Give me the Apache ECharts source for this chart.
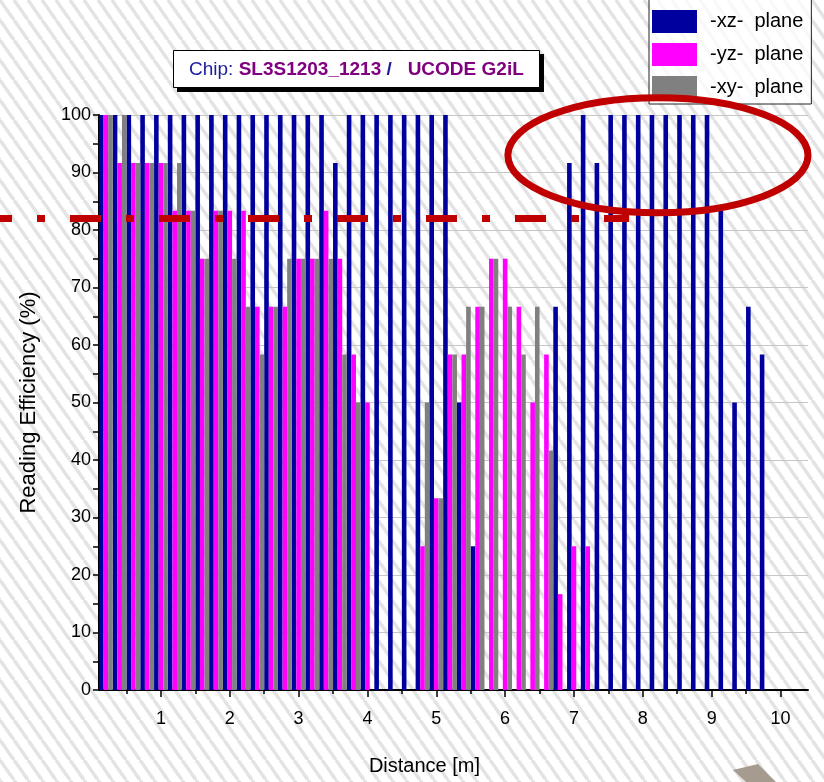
<!DOCTYPE html>
<html><head><meta charset="utf-8">
<script src="https://cdn.jsdelivr.net/npm/echarts@6/dist/echarts.min.js"></script>
<style>html,body{margin:0;padding:0;background:#fff}#c{width:824px;height:782px}</style>
</head><body><div id="c"></div>
<script>
// ---------- data ----------
const distances = [0.2,0.4,0.6,0.8,1.0,1.2,1.4,1.6,1.8,2.0,2.2,2.4,2.6,2.8,3.0,3.2,3.4,3.6,3.8,4.0,
  4.2,4.4,4.6,4.8,5.0,5.2,5.4,5.6,5.8,6.0,6.2,6.4,6.6,6.8,7.0,7.2,7.4,7.6,7.8,8.0,
  8.2,8.4,8.6,8.8,9.0,9.2,9.4,9.6,9.8];
const xzPlane = [100,100,100,100,100,100,100,100,100,100,100,100,100,100,100,100,100,91.67,100,100,
  100,100,100,100,100,100,50,25,null,null,null,null,null,66.67,91.67,100,91.67,100,100,100,
  100,100,100,100,100,83.33,50,66.67,58.33];
const yzPlane = [100,91.67,91.67,91.67,91.67,83.33,83.33,75,83.33,83.33,83.33,66.67,66.67,66.67,75,75,83.33,75,58.33,50,
  null,null,null,25,33.33,58.33,58.33,66.67,75,75,66.67,50,58.33,16.67,25,25,null,null,null,null,
  null,null,null,null,null,null,null,null,null];
const xyPlane = [100,100,91.67,91.67,91.67,91.67,83.33,75,83.33,75,66.67,58.33,66.67,75,75,75,75,58.33,50,null,
  null,null,null,50,33.33,58.33,66.67,66.67,75,66.67,58.33,66.67,41.67,null,null,null,null,null,null,null,
  null,null,null,null,null,null,null,null,null];
const seriesNames = ['-xz-  plane', '-yz-  plane', '-xy-  plane'];
const xTickLabels = [1,2,3,4,5,6,7,8,9,10];
const xMinorTicks = [0.5,1.5,2.5,3.5,4.5,5.5,6.5,7.5,8.5,9.5];
const thresholdLevel = 82;      // red dash-dot line (%)
const thresholdEnd = 7.8;       // where the red line stops (m)
const ellipseCenter = [8.22, 93]; // [m, %]
const ellipseRadius = [2.18, 10]; // [m, %]

// ---------- styles ----------
const FONT = '"Liberation Sans", Arial, sans-serif';
const colors = ['#00009e', '#ff00ff', '#808080'];

function stripes() {
  const c = document.createElement('canvas');
  const w = 14, h = 20;
  c.width = w; c.height = h;
  const g = c.getContext('2d');
  g.fillStyle = '#ffffff'; g.fillRect(0, 0, w, h);
  g.strokeStyle = '#e3e3e3'; g.lineWidth = 3.5;
  [-w, 0, w].forEach(dx => { g.beginPath(); g.moveTo(dx, 0); g.lineTo(dx + w, h); g.stroke(); });
  return c;
}

const chart = echarts.init(document.getElementById('c'));
chart.setOption({
  animation: false,
  backgroundColor: { image: stripes(), repeat: 'repeat' },
  title: {
    text: '{a|Chip: }{b|SL3S1203_1213 }{c|/}{a|   }{b|UCODE G2iL}',
    left: 173, top: 50, z: 10,
    padding: [10, 16, 9, 16],
    backgroundColor: '#fff', borderColor: '#000', borderWidth: 1,
    textStyle: {
      fontFamily: FONT, fontWeight: 'normal',
      rich: {
        a: { fontSize: 19, color: '#1c1c9c', fontWeight: 'normal', fontFamily: FONT },
        b: { fontSize: 19, color: '#800080', fontWeight: 'bold', fontFamily: FONT },
        c: { fontSize: 19, color: '#1c1c9c', fontWeight: 'bold', fontFamily: FONT }
      }
    }
  },
  legend: {
    orient: 'vertical', left: 649, top: -1,
    itemWidth: 45, itemHeight: 23, itemGap: 10,
    padding: [11, 8, 5, 3],
    backgroundColor: 'rgba(255,255,255,0.75)', borderColor: '#222', borderWidth: 1,
    icon: 'rect',
    textStyle: { fontSize: 20, fontFamily: FONT, color: '#000', padding: [0, 0, 0, 8] },
    data: seriesNames
  },
  grid: { left: 99, right: 16, top: 115, bottom: 92 },
  xAxis: [{
    type: 'value', min: 0.1, max: 10.4,
    axisLine: { show: true, lineStyle: { color: '#000', width: 2 } },
    axisTick: { show: true, customValues: xTickLabels, length: 7, lineStyle: { color: '#000', width: 1.5 } },
    axisLabel: { customValues: xTickLabels, fontSize: 18, color: '#000', margin: 20, fontFamily: FONT },
    splitLine: { show: false },
    name: 'Distance [m]', nameLocation: 'middle', nameGap: 66,
    nameTextStyle: { fontSize: 20, color: '#000', fontFamily: FONT, padding: [0, 58, 0, 0] }
  }, {
    type: 'value', min: 0.1, max: 10.4, position: 'bottom',
    axisLine: { show: false }, axisLabel: { show: false }, splitLine: { show: false },
    axisTick: { show: true, customValues: xMinorTicks, length: 4, lineStyle: { color: '#000', width: 1.5 } }
  }],
  yAxis: {
    type: 'value', min: 0, max: 100, interval: 10,
    axisLine: { show: true, lineStyle: { color: '#000', width: 2 } },
    axisTick: { show: true, length: 6, lineStyle: { color: '#000', width: 1.5 } },
    minorTick: { show: true, splitNumber: 2, length: 6, lineStyle: { color: '#000', width: 1.5 } },
    axisLabel: { fontSize: 18, color: '#000', margin: 8, fontFamily: FONT },
    splitLine: { show: true, lineStyle: { color: '#c6c6c6', width: 1 } },
    name: 'Reading Efficiency (%)', nameLocation: 'middle', nameGap: 59, nameRotate: 90,
    nameTextStyle: { fontSize: 22, color: '#000', fontFamily: FONT }
  },
  series: [xzPlane, yzPlane, xyPlane].map((arr, i) => ({
    type: 'bar', name: seriesNames[i],
    data: distances.map((d, j) => [d, arr[j]]),
    barWidth: 4.6, barGap: '0%',
    itemStyle: { color: colors[i] }
  }))
});

// annotations placed through the chart's own scales
const yT = chart.convertToPixel({ yAxisIndex: 0 }, thresholdLevel);
const xE = chart.convertToPixel({ xAxisIndex: 0 }, thresholdEnd);
const cx = chart.convertToPixel({ xAxisIndex: 0 }, ellipseCenter[0]);
const cy = chart.convertToPixel({ yAxisIndex: 0 }, ellipseCenter[1]);
const rx = chart.convertToPixel({ xAxisIndex: 0 }, ellipseCenter[0] + ellipseRadius[0]) - cx;
const ry = cy - chart.convertToPixel({ yAxisIndex: 0 }, ellipseCenter[1] + ellipseRadius[1]);
chart.setOption({
  graphic: [
    { type: 'rect', z: 5, shape: { x: 177, y: 54, width: 367, height: 38 }, style: { fill: '#000' } },
    { type: 'line', z: 100, shape: { x1: 0, y1: yT, x2: xE, y2: yT },
      style: { stroke: '#c00000', lineWidth: 7, lineDash: [31, 25, 8, 25], lineDashOffset: 19, lineCap: 'butt' } },
    { type: 'ellipse', z: 101, shape: { cx: cx, cy: cy, rx: rx, ry: ry },
      style: { fill: null, stroke: '#c00000', lineWidth: 7 } },
    { type: 'polygon', z: 1, shape: { points: [[733, 770], [758, 764], [776, 782], [746, 782]] },
      style: { fill: '#a69b8f' } }
  ]
});
</script>
</body></html>
